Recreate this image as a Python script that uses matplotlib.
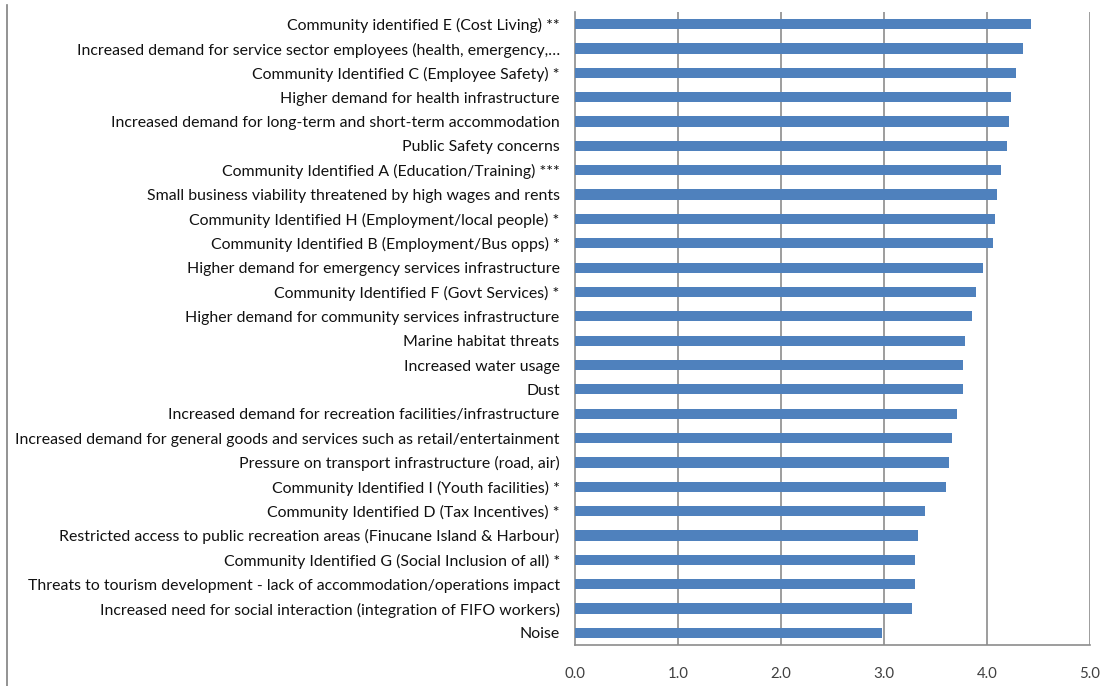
import numpy as np
import matplotlib.pyplot as plt
from matplotlib.lines import Line2D

plt.rcParams['font.family'] = ['Lato', 'DejaVu Sans']

labels = [
    "Community identified E (Cost Living) **",
    "Increased demand for service sector employees (health, emergency,\u2026",
    "Community Identified C (Employee Safety) *",
    "Higher demand for health infrastructure",
    "Increased demand for long-term and short-term accommodation",
    "Public Safety concerns",
    "Community Identified A (Education/Training) ***",
    "Small business viability threatened by high wages and rents",
    "Community Identified H (Employment/local people) *",
    "Community Identified B (Employment/Bus opps) *",
    "Higher demand for emergency services infrastructure",
    "Community Identified F (Govt Services) *",
    "Higher demand for community services infrastructure",
    "Marine habitat threats",
    "Increased water usage",
    "Dust",
    "Increased demand for recreation facilities/infrastructure",
    "Increased demand for general goods and services such as retail/entertainment",
    "Pressure on transport infrastructure (road, air)",
    "Community Identified I (Youth facilities) *",
    "Community Identified D (Tax Incentives) *",
    "Restricted access to public recreation areas (Finucane Island & Harbour)",
    "Community Identified G (Social Inclusion of all) *",
    "Threats to tourism development - lack of accommodation/operations impact",
    "Increased need for social interaction (integration of FIFO workers)",
    "Noise",
]
scores = [4.43, 4.35, 4.28, 4.23, 4.21, 4.19, 4.14, 4.10, 4.08, 4.06,
          3.96, 3.89, 3.85, 3.79, 3.77, 3.77, 3.71, 3.66, 3.63, 3.60,
          3.40, 3.33, 3.30, 3.30, 3.27, 2.98]
xticks = [0, 1, 2, 3, 4, 5]

fig = plt.figure(figsize=(11.04, 6.86), dpi=100)
ax = fig.add_axes([575/1104, 41/686, 515/1104, 633/686])

y = np.arange(len(labels))
ax.barh(y, scores, height=0.42, color='#4F81BD', zorder=3)
ax.set_ylim(len(labels) - 0.5, -0.5)
ax.set_xlim(0, 5)
ax.set_yticks(y)
ax.set_yticklabels(labels, fontsize=11.4, color='#111111')
ax.set_xticks(xticks)
ax.set_xticklabels([f"{v:.1f}" for v in xticks], fontsize=10.8, color='#404040')
ax.tick_params(axis='both', length=0)
ax.tick_params(axis='y', pad=11)
ax.tick_params(axis='x', pad=16)

for xv in xticks[1:]:
    ax.axvline(xv, color='#8c8c8c', lw=1.2, zorder=1)
for s in ['top', 'right']:
    ax.spines[s].set_visible(False)
for s in ['left', 'bottom']:
    ax.spines[s].set_color('#8c8c8c')
    ax.spines[s].set_linewidth(1.2)

# outer chart border on the left
fig.add_artist(Line2D([7/1104, 7/1104], [0, 1 - 5/686], color='#808080', lw=1.2))

fig.savefig('out.png', dpi=100)
